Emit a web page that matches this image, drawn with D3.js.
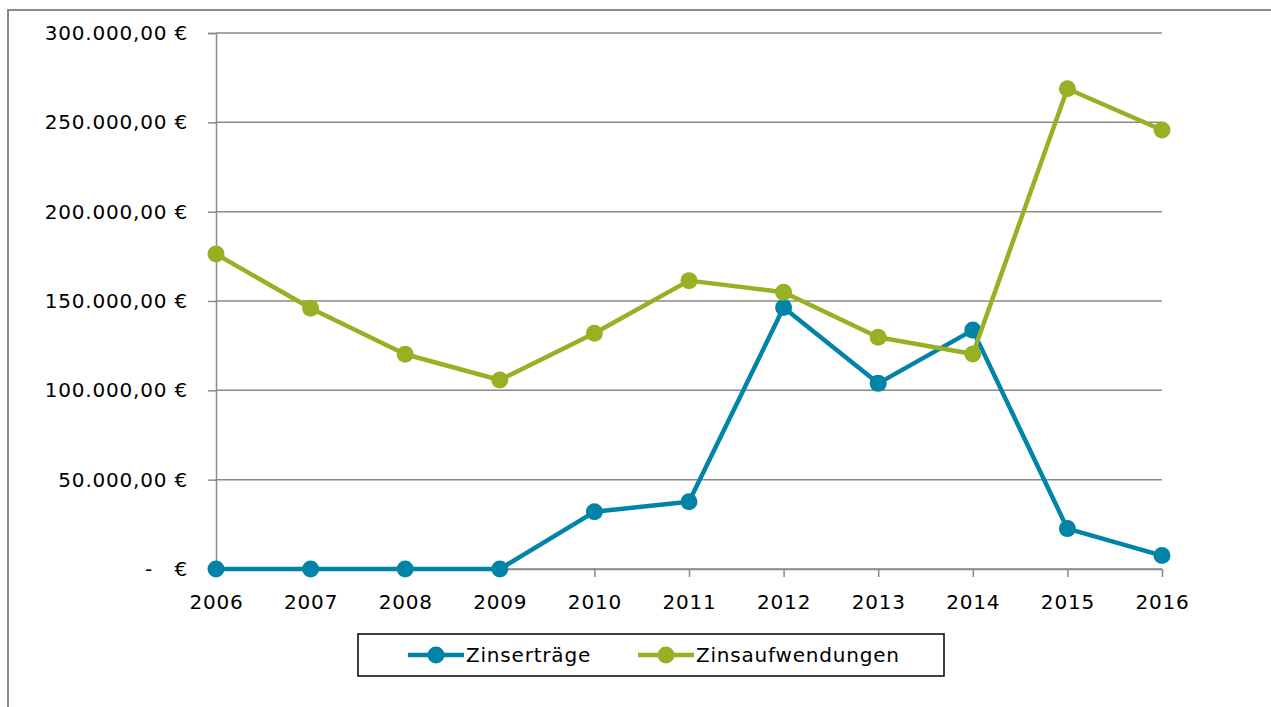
<!DOCTYPE html>
<html>
<head>
<meta charset="utf-8">
<script src="https://cdnjs.cloudflare.com/ajax/libs/d3/7.8.5/d3.min.js"></script>
<style>
  body { margin: 0; background: #fff; }
  svg { display: block; font-family: "DejaVu Sans", Verdana, sans-serif; }
</style>
</head>
<body>
<svg id="chart" width="1271" height="707"></svg>
<script>
// Daten
var years = ["2006", "2007", "2008", "2009", "2010", "2011", "2012", "2013", "2014", "2015", "2016"];
var zinsertraege = [0, 0, 0, 0, 32000, 37700, 146300, 103900, 133700, 22600, 7500];
var zinsaufwendungen = [176300, 145900, 120200, 105800, 131900, 161400, 154900, 129700, 120300, 268800, 245700];
var seriesNames = ["Zinserträge", "Zinsaufwendungen"];
var seriesColors = ["#0284a8", "#98b023"];
var yTicks = [0, 50000, 100000, 150000, 200000, 250000, 300000];

var svg = d3.select('#chart');
var gridColor = "#8a8a8a";
var fontFamily = '"DejaVu Sans", Verdana, sans-serif';

// äußerer Rahmen (läuft rechts/unten über das Bild hinaus)
svg.append('rect')
  .attr('x', 8).attr('y', 10)
  .attr('width', 1400).attr('height', 900)
  .style('fill', 'none')
  .style('stroke', gridColor)
  .style('stroke-width', 2);

var x = d3.scalePoint().domain(years).range([216, 1162]);
var y = d3.scaleLinear().domain([0, 300000]).range([569, 33]);

// deutsches Zahlenformat
var de = d3.formatLocale({ decimal: ",", thousands: ".", grouping: [3], currency: ["", " €"] });
var fmt = de.format(",.2f");
function yLabel(v) {
  if (v === 0) return "-\u00a0\u00a0\u00a0€";
  return fmt(v) + " €";
}

// Gitternetzlinien
svg.append('g')
  .selectAll('line')
  .data(yTicks)
  .enter().append('line')
  .attr('x1', x.range()[0]).attr('x2', x.range()[1])
  .attr('y1', function(d) { return y(d); })
  .attr('y2', function(d) { return y(d); })
  .style('stroke', gridColor)
  .style('stroke-width', 1.5);

// y-Achse
var yAxis = svg.append('g')
  .attr('transform', 'translate(' + x.range()[0] + ',0)')
  .call(d3.axisLeft(y).tickValues(yTicks).tickSize(8).tickPadding(20).tickFormat(yLabel));
yAxis.select('.domain').style('stroke', gridColor).style('stroke-width', 1.5);
yAxis.selectAll('.tick line').style('stroke', gridColor).style('stroke-width', 1.5);
yAxis.selectAll('text')
  .style('font-size', '20px')
  .style('letter-spacing', '0.8px')
  .style('fill', '#000')
  .style('font-family', fontFamily);

// x-Achse
var xAxis = svg.append('g')
  .attr('transform', 'translate(0,' + y(0) + ')')
  .call(d3.axisBottom(x).tickSize(8).tickPadding(18).tickSizeOuter(0));
xAxis.select('.domain').style('stroke', gridColor).style('stroke-width', 1.5);
xAxis.selectAll('.tick line').style('stroke', gridColor).style('stroke-width', 1.5);
xAxis.selectAll('text')
  .style('font-size', '20px')
  .style('letter-spacing', '0.8px')
  .style('fill', '#000')
  .style('font-family', fontFamily);

// Linien + Marker
var seriesData = [zinsertraege, zinsaufwendungen];
var line = d3.line()
  .x(function(d, i) { return x(years[i]); })
  .y(function(d) { return y(d); });

seriesData.forEach(function(values, s) {
  var g = svg.append('g');
  g.append('path')
    .attr('d', line(values))
    .style('fill', 'none')
    .style('stroke', seriesColors[s])
    .style('stroke-width', 4.5)
    .style('stroke-linejoin', 'round');
  g.selectAll('circle')
    .data(values)
    .enter().append('circle')
    .attr('cx', function(d, i) { return x(years[i]); })
    .attr('cy', function(d) { return y(d); })
    .attr('r', 8.5)
    .style('fill', seriesColors[s]);
});

// Legende
var legend = svg.append('g');
legend.append('rect')
  .attr('x', 358).attr('y', 634)
  .attr('width', 586).attr('height', 42)
  .style('fill', '#fff')
  .style('stroke', '#000')
  .style('stroke-width', 1.5);

var legendX = [408, 638];
seriesNames.forEach(function(name, s) {
  var item = legend.append('g').attr('transform', 'translate(' + legendX[s] + ',655)');
  item.append('line')
    .attr('x1', 0).attr('x2', 56).attr('y1', 0).attr('y2', 0)
    .style('stroke', seriesColors[s])
    .style('stroke-width', 4.5);
  item.append('circle')
    .attr('cx', 28).attr('cy', 0).attr('r', 8.5)
    .style('fill', seriesColors[s]);
  item.append('text')
    .attr('x', 58).attr('y', 0)
    .attr('dy', '0.35em')
    .style('font-size', '20px')
    .style('letter-spacing', '0.8px')
    .text(name);
});
</script>
</body>
</html>
